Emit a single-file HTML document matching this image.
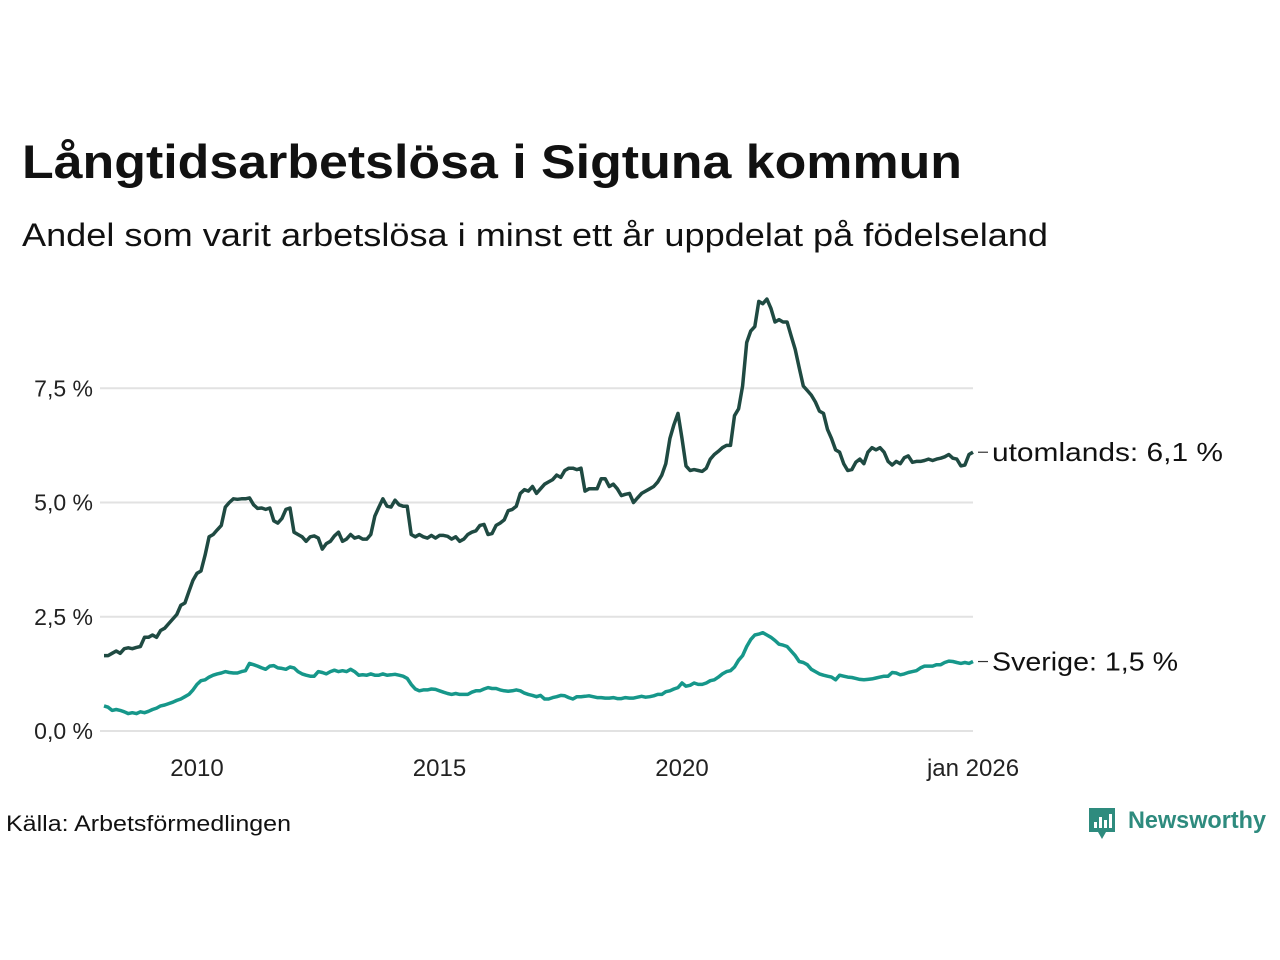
<!DOCTYPE html>
<html><head><meta charset="utf-8"><style>
html,body{margin:0;padding:0;background:#fff;}
svg{display:block;font-family:"Liberation Sans",sans-serif;}
</style></head><body>
<svg id="chart" width="1280" height="960" viewBox="0 0 1280 960">
<text x="22" y="178" font-size="47" font-weight="bold" fill="#111" textLength="940" lengthAdjust="spacingAndGlyphs">Långtidsarbetslösa i Sigtuna kommun</text>
<text x="22" y="246" font-size="32" fill="#111" textLength="1026" lengthAdjust="spacingAndGlyphs">Andel som varit arbetslösa i minst ett år uppdelat på födelseland</text>
<g id="grid"></g>
<g id="yticks"></g>
<g id="xticks"></g>
<g id="lines"></g>
<g id="labels"></g>
<text x="6" y="831" font-size="22" fill="#111" textLength="285" lengthAdjust="spacingAndGlyphs">Källa: Arbetsförmedlingen</text>
<g>
<path d="M1089 808 h26 v24 h-9 l-4 7 l-4 -7 h-9 z" fill="#2e8b7e"/>
<rect x="1094" y="822" width="3" height="6" fill="#fff"/><rect x="1099" y="817" width="3" height="11" fill="#fff"/><rect x="1104" y="820" width="3" height="8" fill="#fff"/><rect x="1109" y="814" width="3" height="14" fill="#fff"/>
<text x="1128" y="828" font-size="24" font-weight="bold" fill="#2e8b7e" textLength="138" lengthAdjust="spacingAndGlyphs">Newsworthy</text>
</g>
</svg>
<script>
const yTicks = [0, 2.5, 5.0, 7.5];
const yTickLabels = ["0,0 %", "2,5 %", "5,0 %", "7,5 %"];
const xTicks = [2010, 2015, 2020, 2026];
const xTickLabels = ["2010", "2015", "2020", "jan 2026"];
const startYear = 2008, startMonth = 1; // Feb 2008 (0-based month)
const utomlands = [
1.65,1.65,1.7,1.75,1.7,1.8,1.82,1.8,1.83,1.85,2.05,
2.05,2.1,2.05,2.2,2.25,2.35,2.45,2.55,2.75,2.8,3.05,3.3,
3.45,3.5,3.85,4.25,4.3,4.4,4.5,4.9,5.0,5.08,5.07,5.08,
5.08,5.1,4.95,4.87,4.88,4.85,4.88,4.6,4.55,4.65,4.85,4.88,
4.35,4.3,4.25,4.15,4.25,4.27,4.22,3.98,4.1,4.15,4.27,4.35,
4.15,4.2,4.3,4.22,4.25,4.2,4.2,4.3,4.7,4.9,5.08,4.92,
4.9,5.05,4.95,4.92,4.92,4.3,4.25,4.3,4.25,4.22,4.28,4.22,
4.28,4.28,4.26,4.2,4.25,4.15,4.2,4.3,4.35,4.38,4.5,4.52,
4.3,4.32,4.5,4.55,4.62,4.82,4.85,4.92,5.2,5.28,5.25,5.35,
5.2,5.3,5.4,5.45,5.5,5.6,5.55,5.7,5.75,5.75,5.72,5.75,
5.25,5.3,5.3,5.3,5.52,5.52,5.35,5.4,5.3,5.15,5.18,5.2,
5.0,5.1,5.2,5.25,5.3,5.35,5.45,5.6,5.85,6.4,6.7,6.95,
6.4,5.8,5.7,5.72,5.7,5.68,5.75,5.95,6.05,6.12,6.2,6.25,
6.25,6.9,7.05,7.55,8.5,8.75,8.85,9.4,9.35,9.45,9.25,8.95,
9.0,8.95,8.95,8.65,8.35,7.95,7.55,7.45,7.35,7.2,7.0,6.95,
6.6,6.4,6.15,6.1,5.85,5.7,5.72,5.88,5.95,5.85,6.1,6.2,
6.15,6.2,6.1,5.9,5.82,5.9,5.85,5.98,6.02,5.88,5.9,5.9,
5.92,5.95,5.92,5.95,5.97,6.0,6.05,5.97,5.95,5.8,5.82,6.05,
6.1];
const sverige = [
0.55,0.52,0.45,0.47,0.45,0.42,0.38,0.4,0.38,0.42,0.4,
0.43,0.47,0.5,0.55,0.57,0.6,0.63,0.67,0.7,0.75,0.8,0.9,
1.02,1.1,1.12,1.18,1.22,1.25,1.27,1.3,1.28,1.27,1.27,1.3,
1.32,1.48,1.45,1.42,1.38,1.35,1.42,1.43,1.38,1.37,1.35,1.4,
1.38,1.3,1.25,1.22,1.2,1.2,1.3,1.28,1.25,1.3,1.33,1.3,
1.32,1.3,1.35,1.3,1.22,1.23,1.22,1.25,1.22,1.22,1.25,1.22,
1.23,1.24,1.22,1.2,1.15,1.02,0.92,0.88,0.9,0.9,0.92,0.91,
0.88,0.85,0.82,0.8,0.82,0.8,0.8,0.8,0.85,0.88,0.88,0.92,
0.95,0.93,0.93,0.9,0.88,0.87,0.88,0.9,0.88,0.83,0.8,0.78,
0.75,0.78,0.7,0.7,0.73,0.75,0.78,0.77,0.73,0.7,0.75,0.75,
0.76,0.77,0.75,0.73,0.73,0.72,0.72,0.73,0.71,0.71,0.73,0.72,
0.72,0.74,0.76,0.74,0.75,0.77,0.8,0.8,0.86,0.88,0.92,0.95,
1.05,0.98,1.0,1.05,1.02,1.02,1.05,1.1,1.12,1.18,1.25,1.3,
1.32,1.4,1.55,1.65,1.85,2.0,2.1,2.12,2.15,2.1,2.05,1.98,
1.9,1.88,1.85,1.75,1.65,1.52,1.5,1.45,1.35,1.3,1.25,1.22,
1.2,1.18,1.12,1.22,1.2,1.18,1.17,1.15,1.13,1.12,1.13,1.14,
1.16,1.18,1.2,1.2,1.28,1.27,1.23,1.25,1.28,1.3,1.32,1.38,
1.42,1.42,1.42,1.45,1.45,1.5,1.53,1.52,1.5,1.48,1.5,1.48,
1.52];
const seriesNames = ["utomlands", "Sverige"];

const NS = "http://www.w3.org/2000/svg";
const xScale = t => 197 + (t - 2010) * 48.5;
const yScale = v => 731 - v * 45.7;
const tOf = i => startYear + (startMonth + i) / 12;
function mk(tag, attrs, parent) {
  const e = document.createElementNS(NS, tag);
  for (const k in attrs) e.setAttribute(k, attrs[k]);
  parent.appendChild(e); return e;
}
const grid = document.getElementById('grid'), yt = document.getElementById('yticks'), xt = document.getElementById('xticks');
yTicks.forEach((v, i) => {
  const l = mk('line', {x1: 100, x2: 973, y1: yScale(v), y2: yScale(v), stroke: '#e2e2e2', 'stroke-width': 2}, grid);
  
  
  const t = mk('text', {x: 93, y: yScale(v) + 8, 'font-size': 23, 'text-anchor': 'end', fill: '#222'}, yt);
  t.textContent = yTickLabels[i];
  
  
});
xTicks.forEach((v, i) => {
  const t = mk('text', {x: xScale(v), y: 776, 'font-size': 24, 'text-anchor': 'middle', fill: '#222'}, xt);
  t.textContent = xTickLabels[i];
  
  
});
const lines = document.getElementById('lines'), labels = document.getElementById('labels');
[[utomlands, '#1f4a42', 'utomlands', 231], [sverige, '#16978a', 'Sverige', 186]].forEach(([arr, col, name, w]) => {
  const d = arr.map((v, i) => (i ? 'L' : 'M') + xScale(tOf(i)).toFixed(1) + ' ' + yScale(v).toFixed(1)).join(' ');
  const p = mk('path', {d: d, fill: 'none', stroke: col, 'stroke-width': 3.5, 'stroke-linejoin': 'round'}, lines);
  
  
  const last = arr[arr.length - 1];
  const y = yScale(last);
  mk('line', {x1: 978, x2: 988, y1: y, y2: y, stroke: '#333', 'stroke-width': 1.2}, labels);
  const t = mk('text', {x: 992, y: y + 9, 'font-size': 26, fill: '#111', textLength: w, lengthAdjust: 'spacingAndGlyphs'}, labels);
  t.textContent = name + ': ' + last.toFixed(1).replace('.', ',') + ' %';
  
  
});
</script>
</body></html>
